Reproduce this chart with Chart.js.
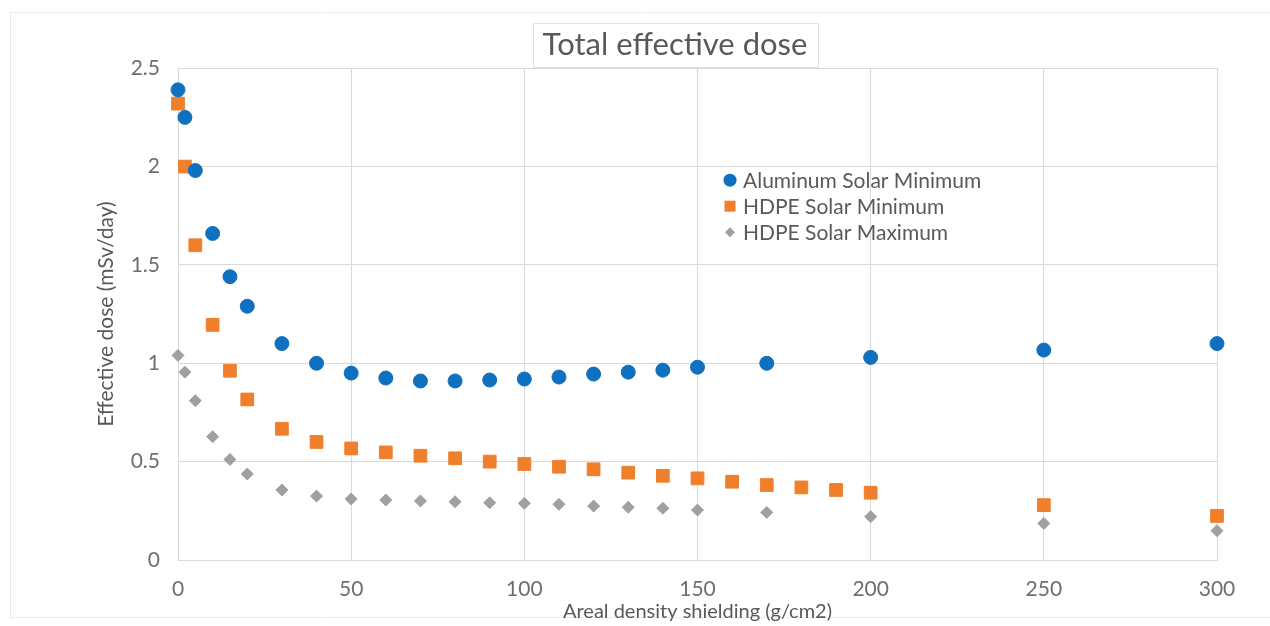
<!DOCTYPE html>
<html>
<head>
<meta charset="utf-8">
<script src="https://cdn.jsdelivr.net/npm/chart.js@4.4.0/dist/chart.umd.min.js"></script>
<style>
  html, body { margin: 0; padding: 0; background: #ffffff; }
  #wrap { width: 1270px; height: 626px; }
</style>
</head>
<body>
<div id="wrap"><canvas id="c" width="1270" height="626"></canvas></div>
<script>
// ---- Data ----
const chartTitle = 'Total effective dose';
const xAxisTitle = 'Areal density shielding (g/cm2)';
const yAxisTitle = 'Effective dose (mSv/day)';
const seriesNames = ['Aluminum Solar Minimum', 'HDPE Solar Minimum', 'HDPE Solar Maximum'];

const alX = [0, 2, 5, 10, 15, 20, 30, 40, 50, 60, 70, 80, 90, 100, 110, 120, 130, 140, 150, 170, 200, 250, 300];
const alY = [2.39, 2.25, 1.98, 1.66, 1.44, 1.29, 1.10, 1.00, 0.95, 0.925, 0.91, 0.91, 0.915, 0.92, 0.93, 0.945, 0.955, 0.965, 0.98, 1.00, 1.03, 1.067, 1.10];

const hdpeMinX = [0, 2, 5, 10, 15, 20, 30, 40, 50, 60, 70, 80, 90, 100, 110, 120, 130, 140, 150, 160, 170, 180, 190, 200, 250, 300];
const hdpeMinY = [2.32, 2.00, 1.60, 1.195, 0.962, 0.816, 0.667, 0.60, 0.567, 0.547, 0.53, 0.517, 0.50, 0.488, 0.474, 0.461, 0.444, 0.428, 0.415, 0.398, 0.381, 0.369, 0.356, 0.342, 0.279, 0.224];

const hdpeMaxX = [0, 2, 5, 10, 15, 20, 30, 40, 50, 60, 70, 80, 90, 100, 110, 120, 130, 140, 150, 170, 200, 250, 300];
const hdpeMaxY = [1.04, 0.955, 0.81, 0.627, 0.511, 0.437, 0.356, 0.325, 0.31, 0.305, 0.30, 0.296, 0.291, 0.288, 0.283, 0.274, 0.268, 0.263, 0.254, 0.242, 0.22, 0.186, 0.149];

const xTicks = [0, 50, 100, 150, 200, 250, 300];
const yTicks = [0, 0.5, 1, 1.5, 2, 2.5];
const yTickLabels = ['0', '0.5', '1', '1.5', '2', '2.5'];
const xTickLabels = ['0', '50', '100', '150', '200', '250', '300'];

// ---- Styles ----
const FONT = 'Lato, "Open Sans", "DejaVu Sans", sans-serif';
const TEXT = '#595959';
const TICK = '#6e6e6e';
const GRID = '#d9d9d9';
const COLORS = ['#1070C0', '#F07F2C', '#A0A0A0'];

const pts = (xs, ys) => xs.map((x, i) => ({x: x, y: ys[i]}));

const legendSpec = [
  {style: 'circle', r: 6.5},
  {style: 'rect', r: 5.5},
  {style: 'diamond', r: 5}
];

const framePlugin = {
  id: 'frame',
  beforeDraw(chart) {
    const ctx = chart.ctx;
    ctx.save();
    ctx.strokeStyle = '#ececec';
    ctx.lineWidth = 1;
    ctx.beginPath();
    ctx.moveTo(1270, 12.5); ctx.lineTo(10.5, 12.5); ctx.lineTo(10.5, 617.5); ctx.lineTo(1270, 617.5);
    ctx.stroke();
    ctx.restore();
  }
};

const titleShift = {
  id: 'titleShift',
  afterLayout(chart) {
    const tb = chart.titleBlock;
    if (tb) { tb.left = 133; tb.right = 1217; }
  },
  afterDraw(chart) {
    const tb = chart.titleBlock;
    const ctx = chart.ctx;
    const o = chart.options.plugins.title;
    ctx.save();
    ctx.font = o.font.size + 'px ' + FONT;
    const w = ctx.measureText(o.text).width;
    const cx = (tb.left + tb.right) / 2;
    const cy = tb.top + o.padding.top + o.font.size * 1.2 / 2;
    ctx.strokeStyle = '#dde3ea';
    ctx.lineWidth = 1;
    ctx.strokeRect(Math.round(cx - w / 2 - 10) + 0.5, Math.round(cy - 22) + 0.5, Math.round(w + 20), 44);
    ctx.restore();
  }
};

const legendPlugin = {
  id: 'insideLegend',
  afterDatasetsDraw(chart) {
    const ctx = chart.ctx;
    const a = chart.chartArea;
    const mx = a.left + 552, tx = a.left + 565, y0 = a.top + 112, dy = 26;
    ctx.save();
    ctx.font = '21px ' + FONT;
    ctx.textBaseline = 'middle';
    ctx.textAlign = 'left';
    chart.data.datasets.forEach((ds, i) => {
      const y = y0 + i * dy;
      const s = legendSpec[i];
      ctx.fillStyle = ds.backgroundColor;
      ctx.beginPath();
      if (s.style === 'circle') {
        ctx.arc(mx, y, s.r, 0, Math.PI * 2);
      } else if (s.style === 'rect') {
        ctx.rect(mx - s.r, y - s.r, s.r * 2, s.r * 2);
      } else {
        ctx.moveTo(mx - s.r, y); ctx.lineTo(mx, y - s.r); ctx.lineTo(mx + s.r, y); ctx.lineTo(mx, y + s.r); ctx.closePath();
      }
      ctx.fill();
      ctx.fillStyle = TEXT;
      ctx.fillText(ds.label, tx, y + 1);
    });
    ctx.restore();
  }
};

new Chart(document.getElementById('c'), {
  type: 'scatter',
  data: {
    datasets: [
      {label: seriesNames[0], data: pts(alX, alY), backgroundColor: COLORS[0], borderColor: COLORS[0],
       pointStyle: 'circle', pointRadius: 7, pointBorderWidth: 1, clip: false},
      {label: seriesNames[1], data: pts(hdpeMinX, hdpeMinY), backgroundColor: COLORS[1], borderColor: COLORS[1],
       pointStyle: 'rect', pointRadius: 9, pointBorderWidth: 1, clip: false},
      {label: seriesNames[2], data: pts(hdpeMaxX, hdpeMaxY), backgroundColor: COLORS[2], borderColor: COLORS[2],
       pointStyle: 'rectRot', pointRadius: 6, pointBorderWidth: 1, clip: false}
    ]
  },
  options: {
    responsive: false,
    animation: false,
    devicePixelRatio: 1,
    layout: {padding: {left: 80, right: 53, top: 0, bottom: 0}},
    plugins: {
      legend: {display: false},
      tooltip: {enabled: false},
      title: {
        display: true, text: chartTitle, color: TEXT,
        font: {family: FONT, size: 31, weight: 'normal'},
        padding: {top: 26, bottom: 5}
      }
    },
    scales: {
      x: {
        type: 'linear', min: 0, max: 300,
        afterBuildTicks: s => { s.ticks = xTicks.map(v => ({value: v})); },
        afterFit: s => { s.height = 66; },
        ticks: {color: TICK, font: {family: FONT, size: 21}, padding: 17,
                callback: (v) => xTickLabels[xTicks.indexOf(v)]},
        grid: {color: GRID, drawTicks: false, lineWidth: 1},
        border: {color: GRID},
        title: {display: true, text: xAxisTitle, color: TEXT, font: {family: FONT, size: 20}, padding: {top: 0, bottom: 2}}
      },
      y: {
        type: 'linear', min: 0, max: 2.5,
        afterBuildTicks: s => { s.ticks = yTicks.map(v => ({value: v})); },
        afterFit: s => { s.width = 98; },
        ticks: {color: TICK, font: {family: FONT, size: 21}, padding: 18,
                callback: (v) => yTickLabels[yTicks.indexOf(v)]},
        grid: {color: GRID, drawTicks: false, lineWidth: 1},
        border: {color: GRID},
        title: {display: true, text: yAxisTitle, color: TEXT, font: {family: FONT, size: 21}, padding: {top: 14, bottom: 0}}
      }
    }
  },
  plugins: [framePlugin, titleShift, legendPlugin]
});
</script>
</body>
</html>
